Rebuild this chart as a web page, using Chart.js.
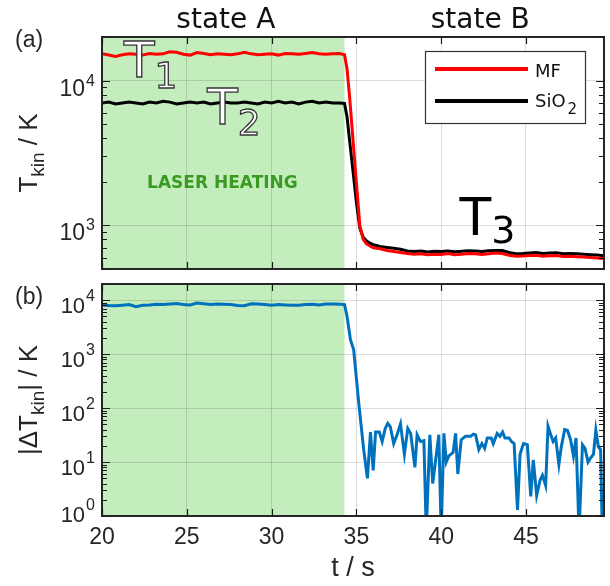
<!DOCTYPE html>
<html>
<head>
<meta charset="utf-8">
<script src="https://cdn.jsdelivr.net/npm/chart.js@4.4.1/dist/chart.umd.min.js"></script>
<style>
  body { margin: 0; background: #fff; }
  #wrap { position: relative; width: 610px; height: 586px; }
  canvas { position: absolute; left: 0; }
  #topChart { top: 0; }
  #bottomChart { top: 275px; }
</style>
</head>
<body>
<div id="wrap">
  <canvas id="topChart" width="610" height="275"></canvas>
  <canvas id="bottomChart" width="610" height="311"></canvas>
</div>
<script>
// time axis of panel (a), seconds
const timeTop = [
  20.0, 20.4, 20.8, 21.2, 21.6, 22.0, 22.4, 22.8, 23.2, 23.6,
  24.0, 24.4, 24.8, 25.2, 25.6, 26.0, 26.4, 26.8, 27.2, 27.6,
  28.0, 28.4, 28.8, 29.2, 29.6, 30.0, 30.4, 30.8, 31.2, 31.6,
  32.0, 32.4, 32.8, 33.2, 33.6, 34.0, 34.3,
  34.45, 34.6, 34.8, 35.0, 35.2, 35.4, 35.6, 35.8, 36.0,
  36.4, 36.8, 37.2, 37.6, 38.0, 38.4, 38.8, 39.2, 39.6, 40.0,
  40.4, 40.8, 41.2, 41.6, 42.0, 42.4, 42.8, 43.2, 43.6, 44.0,
  44.4, 44.8, 45.2, 45.6, 46.0, 46.4, 46.8, 47.2, 47.6, 48.0,
  48.4, 48.8, 49.2, 49.6
];
// T_kin of MF, K
const mfTemp = [
  15300, 15000, 14700, 15100, 15300, 15200, 15000, 15400, 15200, 15300,
  15800, 15700, 15200, 15000, 15600, 15400, 15100, 15300, 15200, 15100,
  15300, 15700, 15300, 15100, 15200, 15300, 15000, 15400, 15300, 15200,
  15400, 15600, 15300, 15200, 15300, 15400, 15100,
  12000, 7700, 3900, 1970, 1000, 800, 745, 720, 700,
  690, 672, 660, 650, 640, 632, 638, 628, 632, 630,
  640, 628, 632, 640, 636, 630, 638, 645, 640, 622,
  612, 615, 620, 622, 612, 618, 620, 610, 612, 608,
  604, 600, 596, 590
];
// T_kin of SiO2, K
const sio2Temp = [
  7000, 7100, 6900, 7000, 7100, 7000, 6900, 7100, 7000, 7200,
  7100, 6900, 7000, 7100, 7000, 7100, 6900, 7000, 7100, 7000,
  7000, 7100, 7000, 6900, 7100, 7000, 7200, 7000, 7100, 6900,
  7100, 7200, 7000, 7100, 7000, 7000, 6950,
  5600, 3850, 2370, 1450, 960, 830, 780, 755, 735,
  715, 705, 695, 685, 665, 660, 665, 655, 662, 660,
  665, 658, 662, 668, 665, 660, 668, 672, 670, 650,
  638, 640, 645, 650, 640, 645, 648, 638, 640, 636,
  632, 628, 625, 618
];

// panel (b): |delta T_kin|
const timeDiff = [
  20.0, 20.4, 20.8, 21.2, 21.6, 22.0, 22.4, 22.8, 23.2, 23.6,
  24.0, 24.4, 24.8, 25.2, 25.6, 26.0, 26.4, 26.8, 27.2, 27.6,
  28.0, 28.4, 28.8, 29.2, 29.6, 30.0, 30.4, 30.8, 31.2, 31.6,
  32.0, 32.4, 32.8, 33.2, 33.6, 34.0, 34.3,
  34.45, 34.65, 34.84, 35.14, 35.43, 35.65, 35.83, 35.99, 36.13, 36.35,
  36.52, 36.7, 36.85, 37.0, 37.2, 37.4, 37.6, 37.83, 38.03, 38.2,
  38.45, 38.58, 38.78, 38.98, 39.12, 39.33, 39.5, 39.86, 40.0, 40.16,
  40.3, 40.45, 40.7, 40.85, 40.98, 41.18, 41.44, 41.73, 41.9, 42.03,
  42.22, 42.4, 42.56, 42.72, 42.95, 43.07, 43.3, 43.47, 43.62, 43.76,
  44.0, 44.14, 44.3, 44.5, 44.65, 44.85, 45.08, 45.28, 45.43, 45.63,
  45.83, 45.97, 46.16, 46.3, 46.46, 46.6, 46.75, 46.94, 47.08, 47.28,
  47.44, 47.63, 47.8, 47.95, 48.13, 48.33, 48.48, 48.66, 48.82, 48.98,
  49.12, 49.27, 49.4, 49.5
];
const diffTemp = [
  8200, 8000, 7900, 8100, 8300, 7600, 8100, 8200, 8400, 8300,
  8500, 8700, 8300, 8200, 8900, 8600, 8300, 8500, 8400, 8300,
  8000, 7900, 8600, 8500, 8300, 8100, 8300, 8200, 8100, 8100,
  8300, 8400, 8200, 8500, 8500, 8400, 8300,
  5000, 1850, 1200, 124, 17, 5, 36, 7, 36, 36,
  24, 42, 52, 45, 22, 32, 51, 14, 42, 34,
  8, 32, 24, 25, 0.5, 32, 4, 32, 0.5, 34,
  10, 13, 15, 34, 6, 26, 30, 30, 33, 32,
  17, 22, 18, 28, 28, 22, 34, 30, 36, 28,
  28, 24, 22, 1.3, 14, 22, 21, 2.3, 11, 2.4,
  4.6, 5.7, 3.7, 46, 32, 24, 28, 9, 19, 40,
  39, 26, 13, 28, 0.5, 21, 18, 10, 12, 14,
  39, 19, 17, 0.5
];

const tMin = 20, tMax = 49.6;
const heatStart = 20, heatEnd = 34.3;
const stateLabels = [{ text: 'state A', t: 27.3 }, { text: 'state B', t: 42.3 }];
const notes = [
  { main: 'T', sub: '1', t: 21.3, v: 10600, size: 50, subSize: 36, subDy: 11, outline: true },
  { main: 'T', sub: '2', t: 26.2, v: 5020, size: 50, subSize: 36, subDy: 11, outline: true },
  { main: 'T', sub: '3', t: 41.08, v: 863, size: 52, subSize: 38, subDy: 8, outline: false }
];

const axisColor = '#262626';
const gridColor = 'rgba(0,0,0,0.13)';
const heatColor = '#c3edbd';

Chart.defaults.font.family = 'Liberation Sans';
Chart.defaults.color = axisColor;

const isDecade = v => Math.abs(Math.log10(v) - Math.round(Math.log10(v))) < 1e-9;

// log ticks 1..9 x 10^n inside the axis range
function logTicks(s) {
  const list = [];
  const lo = Math.floor(Math.log10(s.min) + 1e-9), hi = Math.ceil(Math.log10(s.max) - 1e-9);
  for (let d = lo; d <= hi; d++) {
    for (let m = 1; m <= 9; m++) {
      const v = m * Math.pow(10, d);
      if (v >= s.min * 0.9999 && v <= s.max * 1.0001) list.push({ value: v });
    }
  }
  s.ticks = list;
}

function toPoints(xs, ys) {
  return xs.map((t, i) => ({ x: t, y: ys[i] }));
}

// draw several text runs after each other, centred on (x, y)
function drawRuns(ctx, x, y, runs, angle) {
  ctx.save();
  ctx.translate(x, y);
  if (angle) ctx.rotate(angle);
  ctx.textAlign = 'left';
  ctx.textBaseline = 'alphabetic';
  let total = 0;
  runs.forEach(r => { ctx.font = r.font; total += ctx.measureText(r.text).width; });
  let cx = -total / 2;
  runs.forEach(r => {
    ctx.font = r.font;
    ctx.fillStyle = r.color || axisColor;
    ctx.fillText(r.text, cx, r.dy || 0);
    cx += ctx.measureText(r.text).width;
  });
  ctx.restore();
}

function makeFrame(cfg) {
  return {
    id: 'frame',
    beforeDraw(chart) {
      const { ctx, chartArea: a, scales: { x } } = chart;
      const x0 = x.getPixelForValue(heatStart), x1 = x.getPixelForValue(heatEnd);
      ctx.save();
      ctx.fillStyle = heatColor;
      ctx.fillRect(x0, a.top, x1 - x0, a.bottom - a.top);
      ctx.restore();
    },
    afterDraw(chart) {
      const { ctx, chartArea: a, scales: { x, y } } = chart;
      ctx.save();
      ctx.lineWidth = 2;
      ctx.strokeStyle = axisColor;
      ctx.strokeRect(a.left, a.top, a.right - a.left, a.bottom - a.top);
      // inward tick marks on all four sides
      ctx.strokeStyle = '#1a1a1a';
      ctx.lineWidth = 1.2;
      ctx.beginPath();
      y.ticks.forEach(t => {
        const py = Math.round(y.getPixelForValue(t.value)) + 0.5;
        const len = isDecade(t.value) ? 8 : 5;
        ctx.moveTo(a.left, py); ctx.lineTo(a.left + len, py);
        ctx.moveTo(a.right, py); ctx.lineTo(a.right - len, py);
      });
      x.ticks.forEach(t => {
        const px = Math.round(x.getPixelForValue(t.value)) + 0.5;
        ctx.moveTo(px, a.top); ctx.lineTo(px, a.top + 7);
        ctx.moveTo(px, a.bottom); ctx.lineTo(px, a.bottom - 7);
      });
      ctx.stroke();

      // y tick labels 10^n
      ctx.fillStyle = axisColor;
      ctx.textAlign = 'left';
      ctx.textBaseline = 'alphabetic';
      y.ticks.filter(t => isDecade(t.value)).forEach(t => {
        const py = y.getPixelForValue(t.value);
        const e = String(Math.round(Math.log10(t.value)));
        const base = Math.min(py + cfg.baseDy, a.bottom + 6);
        ctx.font = cfg.expFont;
        const we = ctx.measureText(e).width;
        ctx.fillText(e, a.left - 7 - we, base - cfg.expRaise);
        ctx.font = cfg.baseFont;
        const wb = ctx.measureText('10').width;
        ctx.fillText('10', a.left - 8 - we - wb, base);
      });

      // panel letter and y title
      ctx.font = '23px "Liberation Sans"';
      ctx.fillText(cfg.letter, 15, a.top + cfg.letterDy);
      drawRuns(ctx, 37, (a.top + a.bottom) / 2, cfg.yTitle, -Math.PI / 2);

      if (cfg.extra) cfg.extra(chart);
      ctx.restore();
    }
  };
}

function drawTopExtras(chart) {
  const { ctx, chartArea: a, scales: { x, y } } = chart;

  stateLabels.forEach(s => {
    ctx.font = '28px "DejaVu Sans"';
    ctx.fillStyle = '#111';
    ctx.textAlign = 'center';
    ctx.fillText(s.text, x.getPixelForValue(s.t), a.top - 9);
  });

  ctx.font = 'bold 17px "DejaVu Sans"';
  ctx.fillStyle = '#3b9a22';
  ctx.textAlign = 'center';
  ctx.textBaseline = 'middle';
  ctx.fillText('LASER HEATING', x.getPixelForValue(27.1), y.getPixelForValue(1940));
  ctx.textBaseline = 'alphabetic';
  ctx.textAlign = 'left';

  notes.forEach(n => {
    const px = x.getPixelForValue(n.t), py = y.getPixelForValue(n.v);
    ctx.font = n.size + 'px "DejaVu Sans"';
    const w = ctx.measureText(n.main).width;
    const parts = [
      { text: n.main, font: n.size + 'px "DejaVu Sans"', x: px, y: py },
      { text: n.sub, font: n.subSize + 'px "DejaVu Sans"', x: px + w, y: py + n.subDy }
    ];
    parts.forEach(p => {
      ctx.font = p.font;
      if (n.outline) {
        ctx.fillStyle = '#fff';
        ctx.fillText(p.text, p.x, p.y);
        ctx.lineWidth = 1.3;
        ctx.strokeStyle = '#333';
        ctx.strokeText(p.text, p.x, p.y);
      } else {
        ctx.fillStyle = '#000';
        ctx.fillText(p.text, p.x, p.y);
      }
    });
  });

  // legend
  const ds = chart.data.datasets;
  const bx = a.right - 179, by = a.top + 14, bw = 160, bh = 72;
  ctx.fillStyle = '#fff';
  ctx.fillRect(bx, by, bw, bh);
  ctx.strokeStyle = '#333';
  ctx.lineWidth = 1.2;
  ctx.strokeRect(bx + 0.5, by + 0.5, bw, bh);
  [18, 50].forEach((dy, i) => {
    ctx.strokeStyle = ds[i].borderColor;
    ctx.lineWidth = 4;
    ctx.beginPath();
    ctx.moveTo(bx + 10, by + dy);
    ctx.lineTo(bx + 103, by + dy);
    ctx.stroke();
  });
  ctx.fillStyle = '#111';
  ctx.font = '18px "DejaVu Sans"';
  ctx.fillText('MF', bx + 110, by + 26);
  ctx.fillText('SiO', bx + 110, by + 56);
  const wSi = ctx.measureText('SiO').width;
  ctx.font = '15px "DejaVu Sans"';
  ctx.fillText('2', bx + 112 + wSi, by + 63);
}

const gridOpts = {
  color: c => (c.tick && isDecade(c.tick.value)) ? gridColor : 'transparent',
  lineWidth: 1,
  drawTicks: false
};

new Chart(document.getElementById('topChart'), {
  type: 'line',
  data: {
    datasets: [
      { label: 'MF', data: toPoints(timeTop, mfTemp), borderColor: '#ff0000', borderWidth: 3, pointRadius: 0, clip: 0 },
      { label: 'SiO2', data: toPoints(timeTop, sio2Temp), borderColor: '#000000', borderWidth: 3, pointRadius: 0, clip: 0 }
    ]
  },
  options: {
    responsive: false,
    animation: false,
    layout: { padding: { top: 37, right: 6, bottom: 6, left: 0 } },
    plugins: { legend: { display: false }, tooltip: { enabled: false } },
    scales: {
      x: {
        type: 'linear', min: tMin, max: tMax,
        ticks: { display: false, stepSize: 5, includeBounds: false },
        grid: { color: gridColor, drawTicks: false },
        border: { display: false },
        afterFit: s => { s.height = 0; }
      },
      y: {
        type: 'logarithmic', min: 500, max: 20000,
        ticks: { display: false },
        grid: gridOpts,
        border: { display: false },
        afterBuildTicks: logTicks,
        afterFit: s => { s.width = 102; }
      }
    }
  },
  plugins: [makeFrame({
    baseFont: '23px "Liberation Sans"', expFont: '16px "Liberation Sans"',
    baseDy: 15, expRaise: 10, letter: '(a)', letterDy: 10,
    yTitle: [
      { text: 'T', font: '26px "Liberation Sans"' },
      { text: 'kin', font: '19px "Liberation Sans"', dy: 7 },
      { text: ' / K', font: '26px "Liberation Sans"' }
    ],
    extra: drawTopExtras
  })]
});

new Chart(document.getElementById('bottomChart'), {
  type: 'line',
  data: {
    datasets: [
      { label: '|ΔTkin|', data: toPoints(timeDiff, diffTemp), borderColor: '#0072bd', borderWidth: 3, pointRadius: 0, clip: 0 }
    ]
  },
  options: {
    responsive: false,
    animation: false,
    layout: { padding: { top: 9, right: 6, bottom: 0, left: 0 } },
    plugins: { legend: { display: false }, tooltip: { enabled: false } },
    scales: {
      x: {
        type: 'linear', min: tMin, max: tMax,
        ticks: { stepSize: 5, includeBounds: false, padding: 8, font: { size: 23 }, color: axisColor, maxRotation: 0 },
        grid: { color: gridColor, drawTicks: false },
        border: { display: false },
        title: { display: true, text: 't / s', font: { size: 27 }, color: axisColor, padding: { top: 0, bottom: 1 } },
        afterFit: s => { s.height = 70; }
      },
      y: {
        type: 'logarithmic', min: 1, max: 20000,
        ticks: { display: false },
        grid: gridOpts,
        border: { display: false },
        afterBuildTicks: logTicks,
        afterFit: s => { s.width = 102; }
      }
    }
  },
  plugins: [makeFrame({
    baseFont: '22px "Liberation Sans"', expFont: '16px "Liberation Sans"',
    baseDy: 12.5, expRaise: 12, letter: '(b)', letterDy: 19.5,
    yTitle: [
      { text: '|ΔT', font: '26px "Liberation Sans"' },
      { text: 'kin', font: '19px "Liberation Sans"', dy: 7 },
      { text: '| / K', font: '26px "Liberation Sans"' }
    ]
  })]
});
</script>
</body>
</html>
